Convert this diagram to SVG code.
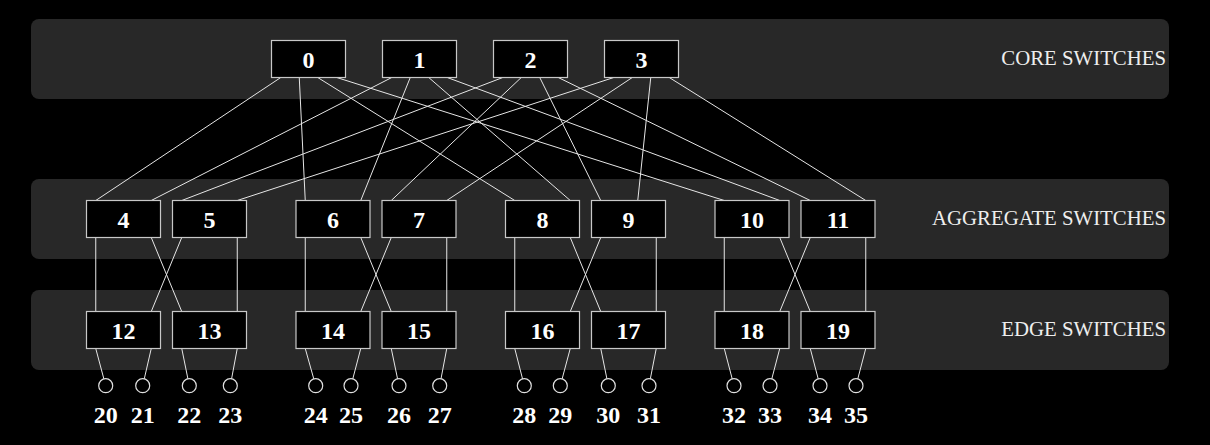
<svg xmlns="http://www.w3.org/2000/svg" width="1210" height="445" viewBox="0 0 1210 445">
<style>
.band{fill:#282828}
.bl{font-family:"Liberation Serif","Times New Roman",serif;font-size:20.8px;fill:#eeeeee;text-anchor:end}
.box{fill:#000;stroke:#c8c8c8;stroke-width:1.2}
.nl{font-family:"Liberation Serif","Times New Roman",serif;font-size:24px;font-weight:bold;fill:#fff;text-anchor:middle}
.host{fill:#000;stroke:#e0e0e0;stroke-width:1.2}
#links line{stroke:#e6e6e6;stroke-width:1}
</style>
<rect x="0" y="0" width="1210" height="445" fill="#000"/>
<g id="bands">
<rect class="band" x="31" y="19" width="1138" height="80" rx="8"/>
<rect class="band" x="31" y="179" width="1138" height="80" rx="8"/>
<rect class="band" x="31" y="290" width="1138" height="80" rx="8"/>
<text class="bl" x="1166" y="65">CORE SWITCHES</text>
<text class="bl" x="1166" y="225">AGGREGATE SWITCHES</text>
<text class="bl" x="1166" y="336">EDGE SWITCHES</text>
</g>
<g id="links">
<line x1="280.75" y1="77.5" x2="95.75" y2="200.5"/>
<line x1="391.75" y1="77.5" x2="151.25" y2="200.5"/>
<line x1="502.75" y1="77.5" x2="181.75" y2="200.5"/>
<line x1="613.75" y1="77.5" x2="237.25" y2="200.5"/>
<line x1="299.25" y1="77.5" x2="305.25" y2="200.5"/>
<line x1="410.25" y1="77.5" x2="360.75" y2="200.5"/>
<line x1="521.25" y1="77.5" x2="391.25" y2="200.5"/>
<line x1="632.25" y1="77.5" x2="446.75" y2="200.5"/>
<line x1="317.75" y1="77.5" x2="514.75" y2="200.5"/>
<line x1="428.75" y1="77.5" x2="570.25" y2="200.5"/>
<line x1="539.75" y1="77.5" x2="600.75" y2="200.5"/>
<line x1="650.75" y1="77.5" x2="637.75" y2="200.5"/>
<line x1="336.75" y1="77.5" x2="724.25" y2="200.5"/>
<line x1="447.25" y1="77.5" x2="779.75" y2="200.5"/>
<line x1="558.25" y1="77.5" x2="810.25" y2="200.5"/>
<line x1="669.25" y1="77.5" x2="865.75" y2="200.5"/>
<line x1="95.75" y1="237.5" x2="95.75" y2="311.5"/>
<line x1="151.25" y1="237.5" x2="181.75" y2="311.5"/>
<line x1="181.75" y1="237.5" x2="151.25" y2="311.5"/>
<line x1="237.25" y1="237.5" x2="237.25" y2="311.5"/>
<line x1="305.25" y1="237.5" x2="305.25" y2="311.5"/>
<line x1="360.75" y1="237.5" x2="391.25" y2="311.5"/>
<line x1="391.25" y1="237.5" x2="360.75" y2="311.5"/>
<line x1="446.75" y1="237.5" x2="446.75" y2="311.5"/>
<line x1="514.75" y1="237.5" x2="514.75" y2="311.5"/>
<line x1="570.25" y1="237.5" x2="600.75" y2="311.5"/>
<line x1="600.75" y1="237.5" x2="570.25" y2="311.5"/>
<line x1="656.25" y1="237.5" x2="656.25" y2="311.5"/>
<line x1="724.25" y1="237.5" x2="724.25" y2="311.5"/>
<line x1="779.75" y1="237.5" x2="810.25" y2="311.5"/>
<line x1="810.25" y1="237.5" x2="779.75" y2="311.5"/>
<line x1="865.75" y1="237.5" x2="865.75" y2="311.5"/>
<line x1="95.75" y1="348.5" x2="103.89" y2="378.94"/>
<line x1="151.25" y1="348.5" x2="144.27" y2="378.88"/>
<line x1="181.75" y1="348.5" x2="187.91" y2="378.84"/>
<line x1="237.25" y1="348.5" x2="231.59" y2="378.82"/>
<line x1="305.25" y1="348.5" x2="313.81" y2="378.96"/>
<line x1="360.75" y1="348.5" x2="352.77" y2="378.93"/>
<line x1="391.25" y1="348.5" x2="397.57" y2="378.85"/>
<line x1="446.75" y1="348.5" x2="441.0" y2="378.82"/>
<line x1="514.75" y1="348.5" x2="522.56" y2="378.92"/>
<line x1="570.25" y1="348.5" x2="562.11" y2="378.94"/>
<line x1="600.75" y1="348.5" x2="606.91" y2="378.84"/>
<line x1="656.25" y1="348.5" x2="650.34" y2="378.83"/>
<line x1="724.25" y1="348.5" x2="732.23" y2="378.93"/>
<line x1="779.75" y1="348.5" x2="771.77" y2="378.93"/>
<line x1="810.25" y1="348.5" x2="818.23" y2="378.93"/>
<line x1="865.75" y1="348.5" x2="857.77" y2="378.93"/>
</g>
<g id="n0"><rect class="box" x="271.5" y="40.5" width="74" height="37"/><text class="nl" x="308.5" y="67.5">0</text></g>
<g id="n1"><rect class="box" x="382.5" y="40.5" width="74" height="37"/><text class="nl" x="419.5" y="67.5">1</text></g>
<g id="n2"><rect class="box" x="493.5" y="40.5" width="74" height="37"/><text class="nl" x="530.5" y="67.5">2</text></g>
<g id="n3"><rect class="box" x="604.5" y="40.5" width="74" height="37"/><text class="nl" x="641.5" y="67.5">3</text></g>
<g id="n4"><rect class="box" x="86.5" y="200.5" width="74" height="37"/><text class="nl" x="123.5" y="227.5">4</text></g>
<g id="n5"><rect class="box" x="172.5" y="200.5" width="74" height="37"/><text class="nl" x="209.5" y="227.5">5</text></g>
<g id="n6"><rect class="box" x="296" y="200.5" width="74" height="37"/><text class="nl" x="333" y="227.5">6</text></g>
<g id="n7"><rect class="box" x="382" y="200.5" width="74" height="37"/><text class="nl" x="419" y="227.5">7</text></g>
<g id="n8"><rect class="box" x="505.5" y="200.5" width="74" height="37"/><text class="nl" x="542.5" y="227.5">8</text></g>
<g id="n9"><rect class="box" x="591.5" y="200.5" width="74" height="37"/><text class="nl" x="628.5" y="227.5">9</text></g>
<g id="n10"><rect class="box" x="715" y="200.5" width="74" height="37"/><text class="nl" x="752" y="227.5">10</text></g>
<g id="n11"><rect class="box" x="801" y="200.5" width="74" height="37"/><text class="nl" x="838" y="227.5">11</text></g>
<g id="n12"><rect class="box" x="86.5" y="311.5" width="74" height="37"/><text class="nl" x="123.5" y="338.5">12</text></g>
<g id="n13"><rect class="box" x="172.5" y="311.5" width="74" height="37"/><text class="nl" x="209.5" y="338.5">13</text></g>
<g id="n14"><rect class="box" x="296" y="311.5" width="74" height="37"/><text class="nl" x="333" y="338.5">14</text></g>
<g id="n15"><rect class="box" x="382" y="311.5" width="74" height="37"/><text class="nl" x="419" y="338.5">15</text></g>
<g id="n16"><rect class="box" x="505.5" y="311.5" width="74" height="37"/><text class="nl" x="542.5" y="338.5">16</text></g>
<g id="n17"><rect class="box" x="591.5" y="311.5" width="74" height="37"/><text class="nl" x="628.5" y="338.5">17</text></g>
<g id="n18"><rect class="box" x="715" y="311.5" width="74" height="37"/><text class="nl" x="752" y="338.5">18</text></g>
<g id="n19"><rect class="box" x="801" y="311.5" width="74" height="37"/><text class="nl" x="838" y="338.5">19</text></g>
<g id="n20"><circle class="host" cx="105.7" cy="385.7" r="7"/><text class="nl" x="105.7" y="422.7">20</text></g>
<g id="n21"><circle class="host" cx="142.7" cy="385.7" r="7"/><text class="nl" x="142.7" y="422.7">21</text></g>
<g id="n22"><circle class="host" cx="189.3" cy="385.7" r="7"/><text class="nl" x="189.3" y="422.7">22</text></g>
<g id="n23"><circle class="host" cx="230.3" cy="385.7" r="7"/><text class="nl" x="230.3" y="422.7">23</text></g>
<g id="n24"><circle class="host" cx="315.7" cy="385.7" r="7"/><text class="nl" x="315.7" y="422.7">24</text></g>
<g id="n25"><circle class="host" cx="351" cy="385.7" r="7"/><text class="nl" x="351" y="422.7">25</text></g>
<g id="n26"><circle class="host" cx="399" cy="385.7" r="7"/><text class="nl" x="399" y="422.7">26</text></g>
<g id="n27"><circle class="host" cx="439.7" cy="385.7" r="7"/><text class="nl" x="439.7" y="422.7">27</text></g>
<g id="n28"><circle class="host" cx="524.3" cy="385.7" r="7"/><text class="nl" x="524.3" y="422.7">28</text></g>
<g id="n29"><circle class="host" cx="560.3" cy="385.7" r="7"/><text class="nl" x="560.3" y="422.7">29</text></g>
<g id="n30"><circle class="host" cx="608.3" cy="385.7" r="7"/><text class="nl" x="608.3" y="422.7">30</text></g>
<g id="n31"><circle class="host" cx="649" cy="385.7" r="7"/><text class="nl" x="649" y="422.7">31</text></g>
<g id="n32"><circle class="host" cx="734" cy="385.7" r="7"/><text class="nl" x="734" y="422.7">32</text></g>
<g id="n33"><circle class="host" cx="770" cy="385.7" r="7"/><text class="nl" x="770" y="422.7">33</text></g>
<g id="n34"><circle class="host" cx="820" cy="385.7" r="7"/><text class="nl" x="820" y="422.7">34</text></g>
<g id="n35"><circle class="host" cx="856" cy="385.7" r="7"/><text class="nl" x="856" y="422.7">35</text></g>
</svg>
